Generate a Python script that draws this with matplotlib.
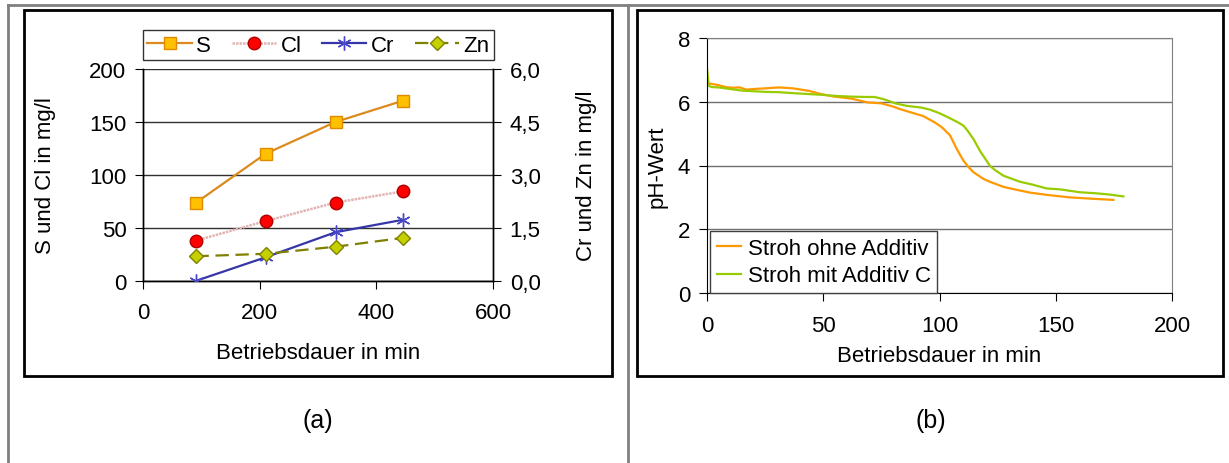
import matplotlib
matplotlib.use("Agg")
import matplotlib.pyplot as plt
from matplotlib.lines import Line2D
from matplotlib.patches import Rectangle
from matplotlib.ticker import FuncFormatter

plt.rcParams['font.family'] = ['Liberation Sans', 'DejaVu Sans']

# (a) element concentrations
dauer = [90, 210, 330, 445]
S = [73.5, 120, 150, 170]
Cl = [38, 56.5, 74, 84.5]
Cr = [0.0, 0.67, 1.38, 1.73]
Zn = [0.70, 0.77, 0.97, 1.22]

# (b) pH curves
t_ohne = [0, 2, 5, 8, 11, 14, 17, 20, 25, 31, 37, 44, 49, 55, 62, 69, 75, 80,
          83, 88, 93, 98, 101, 104.5, 107.4, 110.3, 112.5, 114.6, 118.9, 122,
          127.5, 133, 138.9, 146, 156, 165, 174.8]
ph_ohne = [6.58, 6.56, 6.52, 6.46, 6.44, 6.45, 6.38, 6.40, 6.42, 6.45, 6.42,
           6.34, 6.24, 6.16, 6.10, 5.98, 5.95, 5.85, 5.77, 5.66, 5.55, 5.35,
           5.20, 4.95, 4.52, 4.15, 3.95, 3.79, 3.58, 3.48, 3.33, 3.24, 3.15,
           3.08, 3.00, 2.96, 2.92]
t_mit = [0, 0.8, 2, 5, 10, 15, 20, 25, 31, 37, 44, 49, 56, 62, 68, 72, 76, 81,
         86, 92, 96, 100, 104, 107.8, 110.3, 112, 114.6, 117.4, 121.7, 124,
         127.5, 134.6, 140, 146.1, 152, 160.4, 167, 173, 179.1]
ph_mit = [7.04, 6.50, 6.46, 6.45, 6.40, 6.35, 6.33, 6.31, 6.30, 6.27, 6.24,
          6.22, 6.18, 6.16, 6.15, 6.15, 6.08, 5.95, 5.87, 5.82, 5.75, 5.64,
          5.50, 5.36, 5.25, 5.10, 4.83, 4.46, 3.99, 3.85, 3.68, 3.49, 3.40,
          3.28, 3.25, 3.16, 3.13, 3.09, 3.03]

W, H = 1229, 464
fs = 16

def frac(x0, y0, x1, y1):
    # pixel box (top-left origin) -> figure fraction [l, b, w, h]
    return [x0 / W, 1 - y1 / H, (x1 - x0) / W, (y1 - y0) / H]

fig = plt.figure(figsize=(W / 100, H / 100), dpi=100)

# table lines and chart frames
gray = '#808080'
fig.add_artist(Line2D([8 / W, 1], [1 - 6 / H] * 2, color=gray, lw=2))
fig.add_artist(Line2D([8 / W] * 2, [0, 1 - 6 / H], color=gray, lw=2))
fig.add_artist(Line2D([628 / W] * 2, [0, 1 - 6 / H], color=gray, lw=2))
for x0, x1 in [(24, 612), (637, 1223)]:
    fig.add_artist(Rectangle((x0 / W, 1 - 377 / H), (x1 - x0) / W, 366 / H,
                             transform=fig.transFigure, fill=False,
                             edgecolor='black', lw=2))

# ---- (a)
ax = fig.add_axes(frac(143, 70, 493, 282))
ax2 = ax.twinx()
ax.set_xlim(0, 600)
ax.set_ylim(0, 200)
ax.set_xticks([0, 200, 400, 600])
ax.set_yticks([0, 50, 100, 150, 200])
ax2.set_ylim(0, 6)
ax2.set_yticks([0, 1.5, 3.0, 4.5, 6.0])
ax2.yaxis.set_major_formatter(FuncFormatter(lambda v, p: f"{v:.1f}".replace('.', ',')))
ax.grid(axis='y', color='#303030', lw=1)
ax.set_axisbelow(True)
for a in (ax, ax2):
    a.spines['top'].set_visible(False)
    for s in a.spines.values():
        s.set_color('black')
        s.set_linewidth(1)
ax.tick_params(axis='y', direction='out', length=6, pad=6, labelsize=fs)
ax.tick_params(axis='x', direction='out', length=6, pad=9, labelsize=fs)
ax2.tick_params(axis='y', direction='out', length=6, pad=6, labelsize=fs)

hS, = ax.plot(dauer, S, color='#DB8A1E', lw=1.6, marker='s', ms=9,
              mfc='#FFC000', mec='#E08A00', label='S', zorder=3)
hCl, = ax.plot(dauer, Cl, color='#E2B4B4', lw=1.8, ls=(0, (1, 0.4)),
               marker='o', ms=9, mfc='#FF0000', mec='#B00000', label='Cl', zorder=3)
hCr, = ax2.plot(dauer, Cr, color='#3636A8', lw=1.6, marker=(6, 2, 0), ms=10,
                mec='#4848C8', mew=1, label='Cr', zorder=3)
hZn, = ax2.plot(dauer, Zn, color='#808000', lw=1.6, ls=(0, (6, 3)), marker='D',
                ms=7, mfc='#C4D000', mec='#808000', label='Zn', zorder=3)

ax.set_xlabel('Betriebsdauer in min', fontsize=fs)
ax.xaxis.set_label_coords(0.5, -0.29)
ax.set_ylabel('S und Cl in mg/l', fontsize=fs)
ax.yaxis.set_label_coords(-0.25, 0.5)
ax2.set_ylabel('Cr und Zn in mg/l', fontsize=fs)
ax2.yaxis.set_label_coords(1.237, 0.5)

leg = fig.legend(handles=[hS, hCl, hCr, hZn], ncol=4, fontsize=fs,
                 loc='lower left', mode='expand', borderaxespad=0,
                 bbox_to_anchor=(143 / W, 1 - 61 / H, 351 / W, 29 / H),
                 bbox_transform=fig.transFigure, fancybox=False,
                 handlelength=2.0, handletextpad=0.2, columnspacing=0.8,
                 borderpad=0.2)
leg.get_frame().set_edgecolor('black')
leg.get_frame().set_linewidth(1)

# ---- (b)
bx = fig.add_axes(frac(707, 39, 1172, 294))
bx.set_xlim(0, 200)
bx.set_ylim(0, 8)
bx.set_xticks([0, 50, 100, 150, 200])
bx.set_yticks([0, 2, 4, 6, 8])
bx.grid(axis='y', color='#707070', lw=1)
bx.set_axisbelow(True)
bx.spines['top'].set_color(gray)
bx.spines['right'].set_color(gray)
bx.spines['left'].set_color('black')
bx.spines['bottom'].set_color('black')
bx.tick_params(axis='y', direction='out', length=6, pad=6, labelsize=fs)
bx.tick_params(axis='x', direction='out', length=6, pad=10, labelsize=fs)

bx.plot(t_ohne, ph_ohne, color='#FF9900', lw=1.6, label='Stroh ohne Additiv')
bx.plot(t_mit, ph_mit, color='#99CC00', lw=1.6, label='Stroh mit Additiv C')

bx.set_xlabel('Betriebsdauer in min', fontsize=fs)
bx.xaxis.set_label_coords(0.5, -0.205)
bx.set_ylabel('pH-Wert', fontsize=fs)
bx.yaxis.set_label_coords(-0.084, 0.5)

leg2 = bx.legend(fontsize=fs, loc='upper left',
                 bbox_to_anchor=(710 / W, 1 - 232 / H),
                 bbox_transform=fig.transFigure, borderaxespad=0,
                 fancybox=False, handlelength=1.1, handletextpad=0.3,
                 borderpad=0.3, labelspacing=0.3, framealpha=1)
leg2.get_frame().set_edgecolor('#404040')
leg2.get_frame().set_linewidth(1)

fig.text(318 / W, 1 - 421 / H, '(a)', ha='center', va='center', fontsize=18)
fig.text(931 / W, 1 - 421 / H, '(b)', ha='center', va='center', fontsize=18)

fig.savefig('out.png', dpi=100)
